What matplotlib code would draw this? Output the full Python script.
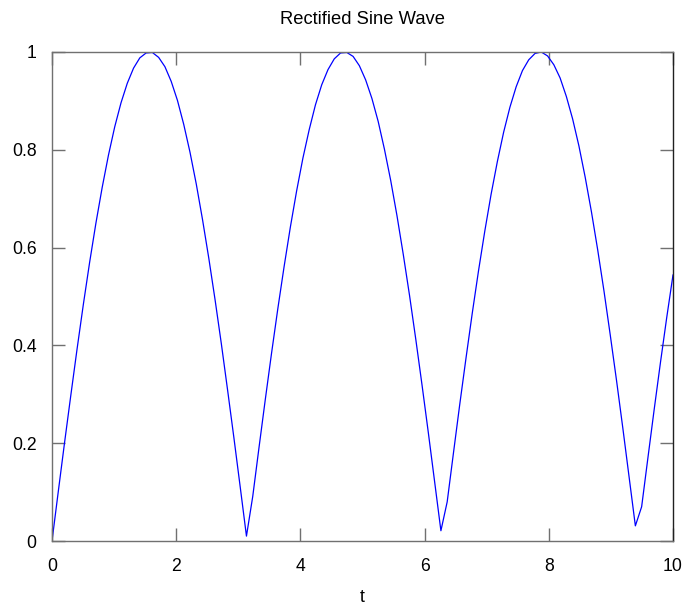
import numpy as np
import matplotlib.pyplot as plt

plt.rcParams['font.family'] = ['Liberation Sans', 'DejaVu Sans']

# 100 samples from 0 to 10
t_start, t_end, n_samples = 0.0, 10.0, 100
y_vals = [
    0.000, 0.101, 0.201, 0.298, 0.393, 0.484, 0.570, 0.650, 0.723, 0.789,
    0.847, 0.896, 0.936, 0.967, 0.988, 0.998, 0.999, 0.989, 0.970, 0.940,
    0.901, 0.852, 0.795, 0.730, 0.657, 0.578, 0.493, 0.403, 0.308, 0.211,
    0.111, 0.010, 0.091, 0.191, 0.289, 0.384, 0.475, 0.561, 0.642, 0.716,
    0.783, 0.841, 0.892, 0.933, 0.964, 0.986, 0.998, 0.999, 0.991, 0.972,
    0.943, 0.905, 0.858, 0.801, 0.737, 0.665, 0.586, 0.502, 0.412, 0.318,
    0.221, 0.121, 0.021, 0.080, 0.180, 0.279, 0.374, 0.466, 0.553, 0.634,
    0.709, 0.776, 0.836, 0.887, 0.929, 0.962, 0.984, 0.997, 1.000, 0.992,
    0.974, 0.947, 0.909, 0.863, 0.808, 0.744, 0.673, 0.595, 0.511, 0.421,
    0.328, 0.231, 0.131, 0.031, 0.070, 0.170, 0.269, 0.365, 0.457, 0.544,
]
x_ticks = [0, 2, 4, 6, 8, 10]
y_ticks = [0, 0.2, 0.4, 0.6, 0.8, 1]
y_tick_labels = ['0', '0.2', '0.4', '0.6', '0.8', '1']

t = np.linspace(t_start, t_end, n_samples)

fig = plt.figure(figsize=(6.86, 6.06), dpi=100)
ax = fig.add_axes([52 / 686, 1 - 541 / 606, 621 / 686, 489 / 606])

ax.plot(t, y_vals, color='#0000ff', linewidth=0.9)

ax.set_xlim(0, 10)
ax.set_ylim(0, 1)
ax.set_xticks(x_ticks)
ax.set_xticklabels([str(v) for v in x_ticks])
ax.set_yticks(y_ticks)
ax.set_yticklabels(y_tick_labels)

for side in ['left', 'top', 'bottom']:
    ax.spines[side].set_color('#707070')
    ax.spines[side].set_linewidth(1.0)
ax.spines['right'].set_color('#202020')
ax.spines['right'].set_linewidth(1.0)

ax.tick_params(direction='in', length=9.4, width=1.0, color='#707070',
               top=True, right=True, labelsize=12.7)
ax.tick_params(axis='y', pad=11)
ax.tick_params(axis='x', pad=12)

ax.set_xlabel('t', fontsize=12.7, labelpad=10.5)
ax.set_title('Rectified Sine Wave', fontsize=13.2, pad=20)

fig.savefig('out.png', dpi=100)
